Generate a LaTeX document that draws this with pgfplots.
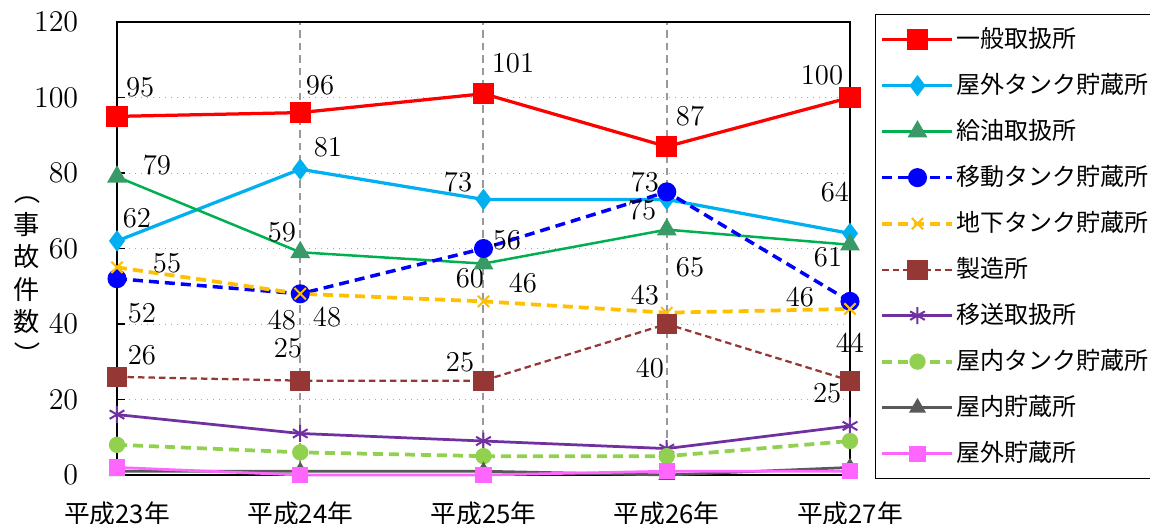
\documentclass[border=0pt]{standalone}
\usepackage{pgfplots}
\pgfplotsset{compat=1.18}
\usepackage{graphicx}
\usepackage{fontspec}
\newfontfamily\jp{Noto Sans CJK JP}

\definecolor{cRed}{HTML}{FF0000}
\definecolor{cCyan}{HTML}{00B0F0}
\definecolor{cGreen}{HTML}{00B050}
\definecolor{cGreenMk}{HTML}{3A9A67}
\definecolor{cBlue}{HTML}{0000FF}
\definecolor{cYellow}{HTML}{FFC000}
\definecolor{cBrown}{HTML}{953735}
\definecolor{cPurple}{HTML}{7030A0}
\definecolor{cLGreen}{HTML}{92D050}
\definecolor{cGray}{HTML}{595959}
\definecolor{cPink}{HTML}{FF66FF}

\tikzset{lbl/.style={font=\fontsize{11.5}{13}\selectfont, inner sep=0pt}}

\begin{document}
\begin{tikzpicture}
\useasboundingbox (-46.8pt,-19.2pt) rectangle (413.2pt,190pt);
\begin{axis}[
  scale only axis,
  width=293.2pt, height=181.2pt,
  xmin=0, xmax=4, ymin=0, ymax=120,
  clip=false,
  xtick={0,1,2,3,4},
  xticklabels={平成23年,平成24年,平成25年,平成26年,平成27年},
  ytick={0,20,40,60,80,100,120},
  xticklabel style={font=\jp\fontsize{10.3}{11}\selectfont, yshift=-7pt},
  yticklabel style={font=\fontsize{11.5}{13}\selectfont, xshift=-12pt},
  xtick style={draw=none},
  ytick style={black, line width=0.6pt},
  ytick pos=left,
  major tick length=3pt,
  axis line style={black, line width=0.8pt},
  xmajorgrids, ymajorgrids,
  x grid style={gray!80, line width=0.8pt, dash pattern=on 3pt off 2pt},
  y grid style={gray!70, line width=0.4pt, dotted},
  legend cell align=left,
  legend image code/.code={\draw[mark repeat=2,mark phase=2] plot coordinates {(0pt,0pt) (14pt,0pt) (28pt,0pt)};},
  legend style={at={(rel axis cs:1,1)}, anchor=north west, xshift=10pt, yshift=3.2pt,
    draw=black, line width=0.5pt, inner xsep=2pt, inner ysep=4.5pt,
    font=\jp\fontsize{9.6}{11}\selectfont, row sep=7.4pt,
    nodes={inner sep=1pt, text height=7.5pt, text depth=1.5pt}},
]
\addplot[cRed, line width=1.3pt, mark=square*, mark size=3.6pt, mark options={solid, fill=cRed}]
  coordinates {(0,95)(1,96)(2,101)(3,87)(4,100)};
\addlegendentry{一般取扱所}
\addplot[cCyan, line width=1.3pt, mark=diamond*, mark size=3.2pt, mark options={solid, fill=cCyan}]
  coordinates {(0,62)(1,81)(2,73)(3,73)(4,64)};
\addlegendentry{屋外タンク貯蔵所}
\addplot[cGreen, line width=1pt, mark=triangle*, mark size=3.6pt, mark options={solid, draw=cGreenMk, fill=cGreenMk}]
  coordinates {(0,79)(1,59)(2,56)(3,65)(4,61)};
\addlegendentry{給油取扱所}
\addplot[cBlue, line width=1.4pt, dash pattern=on 4pt off 2.4pt, mark=*, mark size=3.1pt, mark options={solid, fill=cBlue}]
  coordinates {(0,52)(1,48)(2,60)(3,75)(4,46)};
\addlegendentry{移動タンク貯蔵所}
\addplot[cYellow, line width=1.5pt, dash pattern=on 4pt off 2.4pt, mark=x, mark size=3.2pt, mark options={solid, line width=0.8pt}]
  coordinates {(0,55)(1,48)(2,46)(3,43)(4,44)};
\addlegendentry{地下タンク貯蔵所}
\addplot[cBrown, line width=0.9pt, dash pattern=on 2.6pt off 1.6pt, mark=square*, mark size=3.6pt, mark options={solid, fill=cBrown}]
  coordinates {(0,26)(1,25)(2,25)(3,40)(4,25)};
\addlegendentry{製造所}
\addplot[cPurple, line width=1.1pt, mark=asterisk, mark size=3.4pt, mark options={solid, line width=0.8pt}]
  coordinates {(0,16)(1,11)(2,9)(3,7)(4,13)};
\addlegendentry{移送取扱所}
\addplot[cLGreen, line width=1.5pt, dash pattern=on 4pt off 2.4pt, mark=*, mark size=2.5pt, mark options={solid, fill=cLGreen}]
  coordinates {(0,8)(1,6)(2,5)(3,5)(4,9)};
\addlegendentry{屋内タンク貯蔵所}
\addplot[cGray, line width=1.1pt, mark=triangle*, mark size=2.8pt, mark options={solid, fill=cGray}]
  coordinates {(0,1)(1,1)(2,1)(3,0)(4,2)};
\addlegendentry{屋内貯蔵所}
\addplot[cPink, line width=1.1pt, mark=square*, mark size=2.7pt, mark options={solid, fill=cPink}]
  coordinates {(0,2)(1,0)(2,0)(3,1)(4,1)};
\addlegendentry{屋外貯蔵所}

% data labels
\node[lbl] at (axis cs:0.126,102.6) {95};
\node[lbl] at (axis cs:1.108,103.2) {96};
\node[lbl] at (axis cs:2.161,109) {101};
\node[lbl] at (axis cs:3.127,95.2) {87};
\node[lbl] at (axis cs:3.847,105.8) {100};
\node[lbl] at (axis cs:0.109,68) {62};
\node[lbl] at (axis cs:1.151,86.8) {81};
\node[lbl] at (axis cs:1.861,77.5) {73};
\node[lbl] at (axis cs:2.881,77.5) {73};
\node[lbl] at (axis cs:3.918,74.9) {64};
\node[lbl] at (axis cs:0.218,82) {79};
\node[lbl] at (axis cs:0.9,64.3) {59};
\node[lbl] at (axis cs:2.128,62.2) {56};
\node[lbl] at (axis cs:3.127,55) {65};
\node[lbl] at (axis cs:3.88,57.7) {61};
\node[lbl] at (axis cs:0.136,42.9) {52};
\node[lbl] at (axis cs:0.9,41) {48};
\node[lbl] at (axis cs:1.926,52.1) {60};
\node[lbl] at (axis cs:2.865,70.1) {75};
\node[lbl] at (axis cs:3.727,47) {46};
\node[lbl] at (axis cs:0.273,56) {55};
\node[lbl] at (axis cs:1.146,41.9) {48};
\node[lbl] at (axis cs:2.215,50.8) {46};
\node[lbl] at (axis cs:2.881,47.6) {43};
\node[lbl] at (axis cs:4.0,34.9) {44};
\node[lbl] at (axis cs:0.136,31.7) {26};
\node[lbl] at (axis cs:0.933,33.6) {25};
\node[lbl] at (axis cs:1.872,29.9) {25};
\node[lbl] at (axis cs:2.908,28.3) {40};
\node[lbl] at (axis cs:3.875,21.7) {25};

% y label
\node[font=\jp\fontsize{10.5}{13}\selectfont, align=center, inner sep=0pt, xshift=-36pt]
  at (rel axis cs:0,0.446) {\rotatebox[origin=c]{-90}{（}\\事\\故\\件\\数\\\rotatebox[origin=c]{-90}{）}};
\end{axis}
\end{tikzpicture}
\end{document}
